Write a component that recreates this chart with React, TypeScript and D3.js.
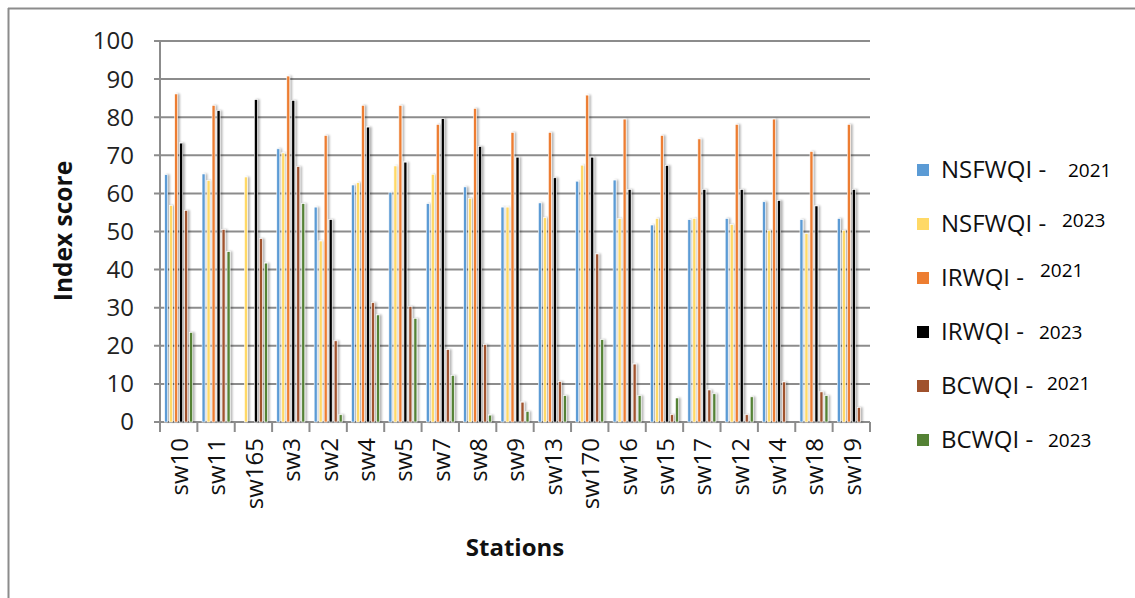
import React from "react";
import * as d3 from "d3";

const stations = ["sw10","sw11","sw165","sw3","sw2","sw4","sw5","sw7","sw8","sw9","sw13","sw170","sw16","sw15","sw17","sw12","sw14","sw18","sw19"];

const nsf2021 = [64.9,65.1,null,71.7,56.4,62.2,60.3,57.3,61.7,56.4,57.5,63.2,63.5,51.7,53.1,53.4,57.8,53.1,53.4];
const nsf2023 = [56.8,63.4,64.3,70.6,47.5,62.8,67.2,65.0,58.7,56.4,53.6,67.4,53.4,53.4,53.4,51.8,50.3,49.5,50.3];
const irw2021 = [86.1,83.1,null,90.8,75.2,83.1,83.1,78.1,82.3,76.0,76.0,85.8,79.5,75.2,74.3,78.1,79.5,71.0,78.1];
const irw2023 = [73.2,81.7,84.6,84.4,53.1,77.4,68.2,79.6,72.3,69.5,64.1,69.5,61.0,67.3,61.0,61.0,58.1,56.7,61.0];
const bcw2021 = [55.5,50.5,48.1,67.0,21.3,31.3,30.3,19.0,20.3,5.2,10.6,44.1,15.2,1.9,8.4,1.9,10.5,7.9,3.8];
const bcw2023 = [23.5,44.7,41.7,57.3,1.9,28.1,27.2,12.2,1.8,2.8,6.9,21.6,6.9,6.3,7.4,6.6,null,6.9,null];

const seriesNames = ["NSFWQI - ", "NSFWQI - ", "IRWQI - ", "IRWQI - ", "BCWQI - ", "BCWQI - "];
const seriesYears = ["2021", "2023", "2021", "2023", "2021", "2023"];
const seriesValues = [nsf2021, nsf2023, irw2021, irw2023, bcw2021, bcw2023];
const seriesColors = ["#5B9BD5", "#FFD966", "#ED7D31", "#000000", "#A0522D", "#548235"];

const yTicks = [0,10,20,30,40,50,60,70,80,90,100];

// legend layout (year label placement as in the reference)
const legendYearX = [1068, 1062, 1040, 1039, 1047, 1048];
const legendYearDy = [0, -4, -8, 0, -3, 0];

export default function App() {
  const W = 1135, H = 598;
  const left = 160, right = 870, top = 41, bottom = 422;
  const x0 = d3.scaleBand<string>().domain(stations).range([left, right]).padding(0);
  const groupW = 30;
  const x1 = d3.scaleBand<number>().domain(d3.range(6)).range([0, groupW]).padding(0);
  const y = d3.scaleLinear().domain([0, 100]).range([bottom, top]);
  const barW = 3;
  const font = "'Open Sans', 'Noto Sans', sans-serif";
  const grid = "#8c8c8c";

  return (
    <svg width={W} height={H} style={{ position: "absolute", left: 0, top: 0, background: "#fff" }}>
      <defs>
        <filter id="shadow" x="-100%" y="-5%" width="400%" height="110%">
          <feGaussianBlur in="SourceAlpha" stdDeviation="1.2" />
          <feOffset dx="1.5" dy="0" result="b" />
          <feComponentTransfer><feFuncA type="linear" slope="0.3" /></feComponentTransfer>
          <feMerge><feMergeNode /><feMergeNode in="SourceGraphic" /></feMerge>
        </filter>
      </defs>
      {/* outer frame */}
      <line x1={8} x2={W} y1={8.5} y2={8.5} stroke={grid} strokeWidth={2} />
      <line x1={8.5} x2={8.5} y1={8} y2={H} stroke={grid} strokeWidth={2} />

      {/* gridlines */}
      {yTicks.map(t => (
        <g key={t}>
          <line x1={left - 6} x2={right} y1={y(t)} y2={y(t)} stroke={grid} strokeWidth={2} />
          <text x={134} y={y(t)} dy="0.35em" textAnchor="end" fontFamily={font} fontSize={24} fill="#222">{t}</text>
        </g>
      ))}
      <line x1={left} x2={left} y1={top} y2={bottom + 10} stroke={grid} strokeWidth={2} />
      {stations.map((s, i) => (
        <line key={s} x1={x0(s)! + x0.bandwidth()} x2={x0(s)! + x0.bandwidth()} y1={bottom} y2={bottom + 10} stroke={grid} strokeWidth={2} />
      ))}

      {/* bars */}
      <g filter="url(#shadow)">
        {stations.map((s, i) => (
          <g key={s} transform={`translate(${x0(s)! + (x0.bandwidth() - groupW) / 2},0)`}>
            {seriesValues.map((vals, k) => {
              const v = vals[i];
              if (v === null || v === undefined) return null;
              const bx = x1(k)! + (x1.bandwidth() - barW) / 2;
              return (
                <rect key={k} x={bx} y={y(v)} width={barW} height={bottom - y(v)} fill={seriesColors[k]} stroke="#fff" strokeWidth={0.6} />
              );
            })}
          </g>
        ))}
      </g>

      {/* x labels */}
      {stations.map(s => {
        const cx = x0(s)! + x0.bandwidth() / 2;
        return (
          <text key={s} transform={`translate(${cx + 1},438) rotate(-90)`} dy="0.35em" textAnchor="end" fontFamily={font} fontSize={24} fill="#111">{s}</text>
        );
      })}

      {/* axis titles */}
      <text transform="translate(63,231) rotate(-90)" dy="0.35em" textAnchor="middle" fontFamily={font} fontWeight="bold" fontSize={24.5} fill="#111">Index score</text>
      <text x={515} y={548} dy="0.35em" textAnchor="middle" fontFamily={font} fontWeight="bold" fontSize={24} fill="#111">Stations</text>

      {/* legend */}
      {seriesNames.map((n, k) => {
        const cy = 170 + k * 54;
        return (
          <g key={k}>
            <rect x={917} y={cy - 6} width={12} height={12} fill={seriesColors[k]} />
            <text x={941} y={cy} dy="0.35em" fontFamily={font} fontSize={24} fill="#111">{n}</text>
            <text x={legendYearX[k]} y={cy + legendYearDy[k]} dy="0.35em" fontFamily={font} fontSize={19} fill="#000">{seriesYears[k]}</text>
          </g>
        );
      })}
    </svg>
  );
}
